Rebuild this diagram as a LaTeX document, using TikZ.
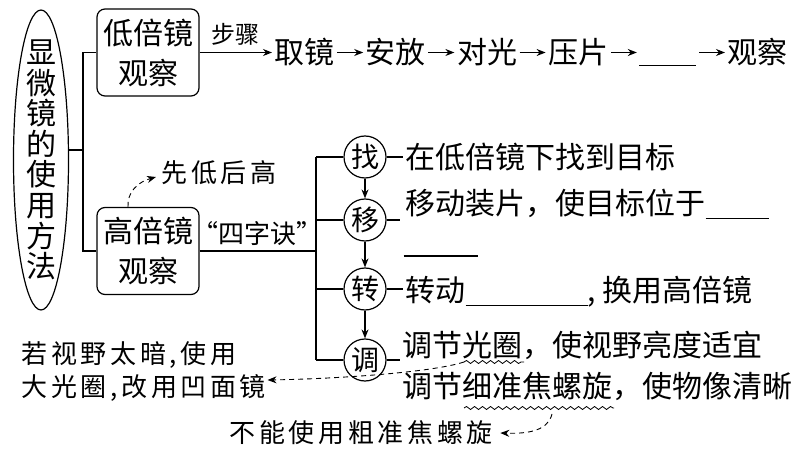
\documentclass[tikz,border=0pt]{standalone}
\usepackage{fontspec}
\setmainfont{Noto Sans CJK SC}
\newfontfamily\handfont[LetterSpace=14]{Noto Sans CJK SC}
\usetikzlibrary{
  arrows.meta,
  shapes.geometric,
  % wavy underlines
  decorations.pathmorphing,
  calc,
  positioning
}
\tikzset{>={Stealth[length=9pt, width=7pt]}}
\tikzset{
  box/.style={draw, rounded corners=8pt, minimum width=102pt, minimum height=87pt,
    align=center, font=\fontsize{30}{40}\selectfont},
  ring/.style={draw, circle, minimum size=42pt, inner sep=0pt, font=\fontsize{28}{28}\selectfont},
  word/.style={inner sep=2pt, font=\fontsize{30}{36}\selectfont},
  hand/.style={inner sep=1pt, anchor=west, font=\handfont\fontsize{26}{30}\selectfont},
  wave/.style={decorate, decoration={snake, amplitude=1.5pt, segment length=8pt}, line width=0.8pt},
  hint/.style={->, line width=0.9pt, dash pattern=on 5pt off 4pt}
}

\begin{document}
\begin{tikzpicture}[x=1pt, y=-1pt, line width=1.2pt]
  \useasboundingbox (0, 0) rectangle (798, 457); %
  % left: title and the two ways of observing
  \node[ellipse, draw, minimum width=55pt, minimum height=300pt] (method) at (41, 160) {}; %
  \node[align=center, font=\fontsize{30}{30.6}\selectfont] (title) at (method.center)
    {显\\微\\镜\\的\\使\\用\\方\\法}; %
  \node[box] (low) at (148, 52.5) {低倍镜\\观察}; %
  \node[box] (high) at (148, 251) {高倍镜\\观察}; %
  \coordinate (fork) at (83, 150); %
  \draw (low.west) -| (fork) |- (high.west); %
  \draw (fork) -- (fork -| method.east); %

  % steps under low power
  \node[word, anchor=west] (take) at (272, 52.5) {取镜}; %
  \node[word, right=26pt of take] (place) {安放}; %
  \node[word, right=26pt of place] (light) {对光}; %
  \node[word, right=26pt of light] (press) {压片}; %
  \node[word, right=26pt of press] (blank) {\vphantom{观}\rule[-4pt]{57pt}{1pt}}; %
  \node[word, right=26pt of blank] (watch) {观察}; %
  \draw[->] (low.east) -- node[above=3pt, font=\fontsize{24}{28}\selectfont] (steps) {步骤} (take.west); %
  \foreach \a/\b in {take/place, place/light, light/press, press/blank, blank/watch}
    \draw[->] (\a) -- (\b); %

  % high power: four words
  \coordinate (split) at (316, 251); %
  \draw (high.east) -- node[above=1pt, font=\fontsize{26}{30}\selectfont] (rhyme) {“四字诀”} (split); %
  \node[ring] (find) at (365, 157) {找}; %
  \node[ring] (move) at (365, 220) {移}; %
  \node[ring] (turn) at (365, 289) {转}; %
  \node[ring] (tune) at (365, 360) {调}; %
  \draw (find.west -| split) -- (tune.west -| split); %
  \foreach \n in {find, move, turn, tune}
    \draw (\n.west -| split) -- (\n.west); %
  \draw[->] (find) -- (move); %
  \draw[->] (move) -- (turn); %
  \draw[->] (turn) -- (tune); %

  \node[word, anchor=west] (findtext) at (403, 157) {在低倍镜下找到目标}; %
  \draw (find.east) -- (findtext.west); %
  \coordinate (moveend) at (400, 220); %
  \draw (move.east) -- (moveend); %
  \node[word, anchor=west] (movetext) at (403, 204) {移动装片，使目标位于\rule[-4pt]{63pt}{1pt}}; %
  \node[anchor=west, inner sep=0pt] (moveblank) at (403, 256) {\rule{74pt}{1pt}}; %
  \node[word, anchor=west] (turntext) at (403, 292) {转动\rule[-4pt]{122pt}{1pt}, 换用高倍镜}; %
  \draw (turn.east) -- (turn.east -| turntext.west); %
  \node[word, anchor=west] (tuneup) at (400, 345) {调节光圈，使视野亮度适宜}; %
  \node[word, anchor=west] (tunedown) at (400, 386) {调节细准焦螺旋，使物像清晰}; %
  \draw (tune.east) -- (tune.east -| tuneup.west); %

  % wavy underlines
  \coordinate (irisstart) at ($(tuneup.west) + (64, 17)$); %
  \coordinate (irisend) at ($(tuneup.west) + (124, 17)$); %
  \coordinate (knobstart) at ($(tunedown.west) + (64, 22)$); %
  \coordinate (knobend) at ($(tunedown.west) + (214, 22)$); %
  \draw[wave] (irisstart) -- (irisend); %
  \draw[wave] (knobstart) -- (knobend); %

  % handwritten notes
  \node[hand] (lowhigh) at (160, 173) {先低后高}; %
  \node[hand] (dark1) at (20, 355) {若视野太暗,使用}; %
  \node[hand] (dark2) at (20, 388) {大光圈,改用凹面镜}; %
  \node[hand] (nocoarse) at (228, 433) {不能使用粗准焦螺旋}; %
  \draw[hint] ([xshift=-20pt]high.north) .. controls (127, 192) and (138, 182) .. ([xshift=-4pt, yshift=-4pt]lowhigh.west); %
  \draw[hint] (irisstart) .. controls (430, 373) and (330, 379) .. ([yshift=8pt]dark2.east); %
  \coordinate (knobmark) at ($(tunedown.west) + (152, 28)$); %
  \draw[hint] (knobmark) .. controls (548, 430) and (530, 434) .. ([xshift=6pt]nocoarse.east); %
\end{tikzpicture}
\end{document}
